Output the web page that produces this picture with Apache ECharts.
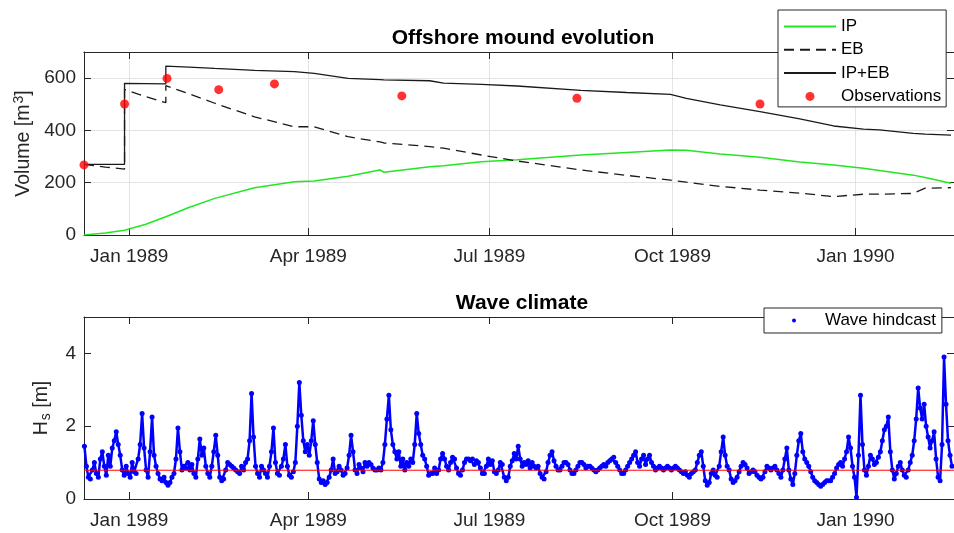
<!DOCTYPE html>
<html>
<head>
<meta charset="utf-8">
<script src="https://cdn.jsdelivr.net/npm/echarts@6/dist/echarts.min.js"></script>
<style>
  html, body { margin: 0; padding: 0; background: #fff; }
  #chart { width: 954px; height: 533px; }
</style>
</head>
<body>
<div id="chart"></div>
<script>
// ---- Mound volume model (m^3); duplicated dates mark the nourishment steps ----
const modelDates = [
  '1988-12-09 07:00', '1988-12-20', '1988-12-29 16:00', '1988-12-29 16:00', '1989-01-09',
  '1989-01-19 10:00', '1989-01-19 10:00', '1989-01-31', '1989-02-13', '1989-03-05',
  '1989-03-25', '1989-04-04', '1989-04-21', '1989-05-07', '1989-05-09',
  '1989-06-01', '1989-06-08', '1989-06-27', '1989-07-15', '1989-08-16',
  '1989-09-08', '1989-09-30', '1989-10-08', '1989-10-25', '1989-11-14',
  '1989-12-04', '1989-12-21', '1990-01-05', '1990-01-13', '1990-01-30',
  '1990-02-05', '1990-02-18'
];
const ipValues = [
  0, 8, 18, 18, 40,
  70, 70, 105, 140, 181,
  204, 207, 225, 249, 240,
  261, 265, 280, 288, 306,
  316, 325, 324, 310, 297,
  279, 268, 255, 247, 229,
  220, 198
];
const ebValues = [
  270, 260, 252, 557, 530,
  506, 571, 540, 504, 452,
  414, 414, 376, 356, 352,
  338, 332, 306, 283, 249,
  228, 210, 202, 186, 172,
  160, 147, 156, 156, 159,
  179, 181
];
const totalValues = [
  270, 270, 270, 580, 579,
  578, 646, 642, 637, 630,
  625, 618, 599, 594, 593,
  590, 581, 576, 570, 553,
  545, 538, 523, 498, 472,
  444, 417, 405, 402, 389,
  386, 382
];

// ---- Surveyed volumes (m^3) ----
const obsDates = [
  '1988-12-09 07:00', '1988-12-29 16:00', '1989-01-20', '1989-02-15',
  '1989-03-15', '1989-05-18', '1989-08-14', '1989-11-14'
];
const obsValues = [268, 501, 599, 556, 578, 532, 523, 501];

// ---- Daily significant wave height hindcast (m) ----
const hsStart = '1988-12-09 12:00';
const hsStepDays = 1;
const hsValues = [
  1.45, 0.9, 0.6, 0.55, 0.8, 1.0, 0.7, 0.6, 1.1, 1.3,
  0.9, 0.65, 1.2, 0.9, 1.4, 1.6, 1.85, 1.5, 1.2, 0.8,
  0.65, 0.9, 0.7, 0.6, 1.0, 0.75, 0.7, 1.1, 1.5, 2.35,
  1.4, 0.8, 0.6, 1.3, 2.25, 1.2, 0.9, 0.7, 0.55, 0.5,
  0.6, 0.45, 0.38, 0.45, 0.6, 0.7, 1.1, 1.95, 1.3, 0.8,
  0.9, 0.85, 1.0, 0.8, 0.95, 0.7, 0.6, 1.1, 1.65, 1.2,
  1.4, 0.9, 0.7, 0.6, 0.9, 1.3, 1.75, 1.2, 0.6, 0.5,
  0.55, 0.8, 1.0, 0.95, 0.9, 0.85, 0.8, 0.75, 0.7, 0.9,
  0.8, 1.0, 1.1, 1.6, 2.9, 1.7, 0.9, 0.7, 0.6, 0.9,
  0.8, 0.7, 0.6, 0.9, 1.3, 1.95, 1.0, 0.7, 0.65, 0.9,
  1.1, 1.5, 0.9, 0.65, 0.6, 0.75, 1.0, 2.0, 3.2, 2.3,
  1.6, 1.3, 1.5, 1.2, 1.6, 2.15, 1.5, 1.0, 0.55, 0.45,
  0.5, 0.4, 0.45, 0.6, 0.8, 1.1, 0.7, 0.75, 0.9, 0.8,
  0.65, 0.7, 0.85, 1.2, 1.75, 1.3, 0.8, 0.7, 0.95, 0.85,
  0.75, 1.0, 0.9, 1.0, 0.95, 0.85, 0.8, 0.8, 0.85, 0.8,
  1.0, 1.5, 2.2, 2.85, 1.9, 1.5, 1.3, 1.1, 1.3, 0.9,
  1.1, 0.8, 1.0, 0.9, 1.1, 1.0, 1.5, 2.35, 1.8, 1.5,
  1.2, 1.1, 0.9, 0.65, 0.7, 0.7, 0.85, 0.7, 0.8, 1.1,
  1.25, 1.1, 0.9, 0.8, 1.0, 1.15, 1.1, 0.85, 0.7, 0.65,
  0.8, 1.0, 1.1, 1.1, 1.05, 1.1, 0.95, 1.05, 1.0, 0.85,
  0.7, 0.7, 0.9, 1.1, 0.95, 1.05, 0.75, 0.7, 0.8, 1.0,
  0.95, 0.6, 0.5, 0.6, 0.9, 1.05, 1.25, 1.1, 1.45, 1.1,
  0.9, 1.0, 0.95, 1.05, 0.85, 1.0, 0.9, 0.85, 0.9, 0.7,
  0.6, 0.55, 0.75, 1.0, 1.2, 1.3, 1.05, 0.9, 0.8, 0.8,
  0.9, 1.0, 1.0, 0.95, 0.8, 0.7, 0.7, 0.8, 0.9, 1.0,
  1.0, 0.95, 0.85, 0.9, 0.9, 0.85, 0.8, 0.75, 0.8, 0.85,
  0.9, 0.95, 0.9, 1.0, 1.05, 1.1, 1.15, 1.0, 0.9, 0.8,
  0.7, 0.7, 0.8, 0.9, 1.0, 1.1, 1.2, 1.3, 1.0, 0.9,
  1.1, 1.2, 0.95, 1.1, 1.2, 1.0, 0.9, 0.8, 0.85, 0.9,
  0.85, 0.8, 0.85, 0.9, 0.85, 0.8, 0.85, 0.9, 0.85, 0.8,
  0.75, 0.7, 0.75, 0.65, 0.6, 0.7, 0.75, 0.8, 1.0, 1.2,
  1.3, 0.9, 0.5, 0.38, 0.45, 0.7, 0.8, 0.65, 0.6, 0.9,
  1.3, 1.7, 1.2, 0.9, 0.8, 0.55, 0.45, 0.5, 0.6, 0.75,
  0.9, 1.0, 0.95, 0.85, 0.7, 0.75, 0.8, 0.75, 0.65, 0.6,
  0.55, 0.6, 0.75, 0.9, 0.85, 0.8, 0.85, 0.9, 0.8, 0.7,
  0.6, 0.8, 1.1, 1.4, 0.8, 0.55, 0.4, 0.7, 1.2, 1.6,
  1.8, 1.3, 1.1, 1.0, 0.9, 0.75, 0.6, 0.5, 0.45, 0.4,
  0.35, 0.4, 0.45, 0.5, 0.5, 0.5, 0.6, 0.7, 0.85, 0.95,
  1.0, 0.9, 1.1, 1.3, 1.7, 1.4, 0.9, 0.6, 0.05, 1.2,
  2.85, 1.5, 0.8, 0.65, 0.9, 1.2, 1.1, 0.95, 1.0, 1.15,
  1.3, 1.6, 1.9, 2.0, 2.25, 1.3, 0.8, 0.55, 0.7, 0.9,
  1.0, 0.8, 0.65, 0.6, 0.8, 1.0, 1.2, 1.6, 2.2, 3.05,
  2.5, 2.2, 2.6, 2.0, 1.7, 1.4, 1.6, 1.85, 1.1, 0.6,
  0.5, 1.5, 3.9, 2.6, 1.6, 1.2, 0.9
];
const hsMean = 0.79;

// ---- Axis ticks ----
const xTickDates = ['1989-01-01', '1989-04-01', '1989-07-01', '1989-10-01', '1990-01-01'];
const xTickLabels = ['Jan 1989', 'Apr 1989', 'Jul 1989', 'Oct 1989', 'Jan 1990'];
const xStart = '1988-12-09 07:00';
const xEnd = '1990-02-19 12:00';

// Dates become epoch milliseconds on a numeric axis so quarter ticks can be placed exactly
const parse = s => echarts.time.parse(s).getTime();
const xMin = parse(xStart);
const xMax = parse(xEnd);
const xTicks = xTickDates.map(parse);
const tickLabel = v => {
  const i = xTicks.indexOf(v);
  return i >= 0 ? xTickLabels[i] : '';
};
const pair = (dates, vals) => dates.map((d, i) => [parse(d), vals[i]]);
const DAY = 86400000;
const hsData = hsValues.map((v, i) => [parse(hsStart) + i * hsStepDays * DAY, v]);

const AXIS = '#262626';
const FONT = 'Liberation Sans, Arial, Helvetica, sans-serif';

function dateAxis(grid, pos, labels, split) {
  return {
    type: 'value', gridIndex: grid, position: pos, min: xMin, max: xMax,
    axisLine: { show: true, onZero: false, lineStyle: { color: AXIS, width: 1 } },
    axisTick: { show: true, inside: true, length: 7, customValues: xTicks, lineStyle: { color: AXIS } },
    axisLabel: {
      show: labels, customValues: xTicks, formatter: tickLabel, margin: 12,
      fontSize: 19, color: AXIS, fontFamily: FONT, hideOverlap: false
    },
    splitLine: { show: split, lineStyle: { color: '#e3e3e3', width: 1 } }
  };
}
function valueAxis(grid, pos, min, max, interval, labels, split, name, nameGap) {
  return {
    type: 'value', gridIndex: grid, position: pos, min, max, interval,
    name: name || '', nameLocation: 'middle', nameGap: nameGap || 0,
    nameTextStyle: {
      fontSize: 19, color: AXIS, fontFamily: FONT,
      rich: {
        sup: { fontSize: 14, fontFamily: FONT, color: AXIS, verticalAlign: 'top', padding: [0, 0, 9, 1] },
        sub: { fontSize: 14, fontFamily: FONT, color: AXIS, verticalAlign: 'bottom', padding: [9, 0, 0, 1] },
        n: { fontSize: 19.5, fontFamily: FONT, color: AXIS }
      }
    },
    axisLine: { show: true, onZero: false, lineStyle: { color: AXIS, width: 1 } },
    axisTick: { show: true, inside: true, length: 7, lineStyle: { color: AXIS } },
    axisLabel: { show: labels, showMaxLabel: false, margin: 8, fontSize: 19, color: AXIS, fontFamily: FONT },
    splitLine: { show: split, lineStyle: { color: '#e3e3e3', width: 1 } }
  };
}

const chart = echarts.init(document.getElementById('chart'), null, { renderer: 'canvas' });
chart.setOption({
  animation: false,
  backgroundColor: '#fff',
  textStyle: { fontFamily: FONT },
  title: [
    { text: 'Offshore mound evolution', left: 518, top: 23, textAlign: 'center',
      textStyle: { fontSize: 21, fontWeight: 'bold', color: '#000', fontFamily: FONT } },
    { text: 'Wave climate', left: 517, top: 288, textAlign: 'center',
      textStyle: { fontSize: 21, fontWeight: 'bold', color: '#000', fontFamily: FONT } }
  ],
  grid: [
    { left: 84, top: 52, width: 873, height: 183 },
    { left: 84, top: 317, width: 873, height: 182 }
  ],
  xAxis: [
    dateAxis(0, 'bottom', true, true),
    dateAxis(0, 'top', false, false),
    dateAxis(1, 'bottom', true, false),
    dateAxis(1, 'top', false, false)
  ],
  yAxis: [
    valueAxis(0, 'left', 0, 700, 200, true, true, '{n|Volume [m}{sup|3}{n|]}', 45),
    valueAxis(0, 'right', 0, 700, 200, false, false),
    valueAxis(1, 'left', 0, 5, 2, true, false, '{n|H}{sub|s}{n| [m]}', 31),
    valueAxis(1, 'right', 0, 5, 2, false, false)
  ],
  legend: [
    {
      data: [
        { name: 'IP', itemStyle: { opacity: 0 } },
        { name: 'EB', itemStyle: { opacity: 0 } },
        { name: 'IP+EB', itemStyle: { opacity: 0 } },
        { name: 'Observations', icon: 'circle' }
      ],
      orient: 'vertical', left: 778, top: 10,
      itemWidth: 52, itemHeight: 9, itemGap: 6.3,
      padding: [8, 5, 2, 5],
      borderColor: AXIS, borderWidth: 1, backgroundColor: '#fff', borderRadius: 0,
      textStyle: { fontSize: 17, lineHeight: 17, color: '#000', fontFamily: FONT },
      selectedMode: false
    },
    {
      data: [{ name: 'Wave hindcast', icon: 'circle' }],
      orient: 'vertical', left: 764, top: 308,
      itemWidth: 52, itemHeight: 4,
      padding: [4, 6, 4, 28],
      borderColor: AXIS, borderWidth: 1, backgroundColor: '#fff', borderRadius: 0,
      textStyle: { fontSize: 17, lineHeight: 17, color: '#000', fontFamily: FONT },
      selectedMode: false
    }
  ],
  series: [
    {
      name: 'IP', type: 'line', xAxisIndex: 0, yAxisIndex: 0,
      data: pair(modelDates, ipValues), symbol: 'none',
      lineStyle: { color: '#22e622', width: 1.5 }, itemStyle: { color: '#22e622' }
    },
    {
      name: 'EB', type: 'line', xAxisIndex: 0, yAxisIndex: 0,
      data: pair(modelDates, ebValues), symbol: 'none',
      lineStyle: { color: '#1a1a1a', width: 1.3, type: [10, 6] }, itemStyle: { color: '#1a1a1a' }
    },
    {
      name: 'IP+EB', type: 'line', xAxisIndex: 0, yAxisIndex: 0,
      data: pair(modelDates, totalValues), symbol: 'none',
      lineStyle: { color: '#1a1a1a', width: 1.3 }, itemStyle: { color: '#1a1a1a' }
    },
    {
      name: 'Observations', type: 'scatter', xAxisIndex: 0, yAxisIndex: 0,
      data: pair(obsDates, obsValues), symbol: 'circle', symbolSize: 9,
      itemStyle: { color: '#ff0000' }, z: 5
    },
    {
      name: 'Wave hindcast', type: 'line', xAxisIndex: 2, yAxisIndex: 2,
      data: hsData, symbol: 'circle', symbolSize: 5, showSymbol: true,
      lineStyle: { color: '#0000ff', width: 2.5 }, itemStyle: { color: '#0000ff' }
    },
    {
      name: 'mean', type: 'line', xAxisIndex: 2, yAxisIndex: 2,
      data: [[xMin, hsMean], [xMax, hsMean]], symbol: 'none',
      lineStyle: { color: '#ff0000', width: 1 }, z: 5
    }
  ]
});
</script>
</body>
</html>
